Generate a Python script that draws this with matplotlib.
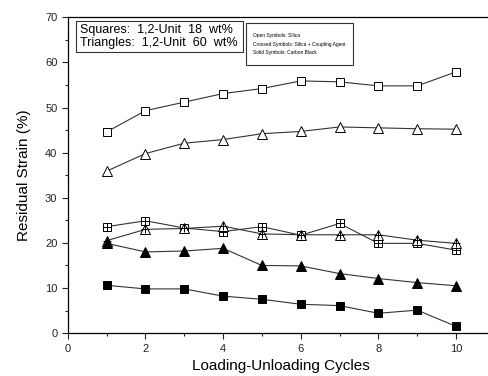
import numpy as np
import matplotlib.pyplot as plt
from matplotlib.patches import Rectangle
from matplotlib.ticker import MultipleLocator

plt.rcParams['font.family'] = ['Liberation Sans', 'DejaVu Sans']

# ==================== data ====================
cycles = [1, 2, 3, 4, 5, 6, 7, 8, 9, 10]
sq_open = [44.6, 49.3, 51.2, 53.1, 54.2, 55.9, 55.7, 54.8, 54.8, 57.9]
tri_open = [35.9, 39.8, 42.1, 42.9, 44.2, 44.7, 45.7, 45.5, 45.3, 45.2]
sq_cross = [23.6, 24.9, 23.3, 22.5, 23.6, 21.7, 24.3, 19.9, 19.9, 18.4]
tri_cross = [20.5, 23.0, 23.2, 23.7, 22.0, 21.8, 21.8, 21.8, 20.6, 19.9]
tri_solid = [19.9, 18.0, 18.2, 18.8, 15.0, 14.9, 13.2, 12.1, 11.2, 10.5]
sq_solid = [10.6, 9.8, 9.8, 8.2, 7.5, 6.4, 6.1, 4.4, 5.1, 1.5]

fig = plt.figure(figsize=(4.88, 3.76), dpi=100)
ax = fig.add_axes([0.139, 0.114, 0.875, 0.840])

lc = '#333333'
kw = dict(color=lc, linewidth=0.8, markeredgecolor='black', markeredgewidth=0.7)
pk = dict(marker='+', markersize=6, linestyle='none', markeredgecolor='black', markeredgewidth=0.7)

ax.plot(cycles, sq_open, marker='s', markersize=6, markerfacecolor='white', **kw)
ax.plot(cycles, tri_open, marker='^', markersize=7, markerfacecolor='white', **kw)
ax.plot(cycles, sq_cross, marker='s', markersize=6, markerfacecolor='white', **kw)
ax.plot(cycles, sq_cross, **pk)
ax.plot(cycles, tri_cross, marker='^', markersize=7, markerfacecolor='white', **kw)
ax.plot(cycles, tri_cross, **pk)
ax.plot(cycles, tri_solid, marker='^', markersize=7, markerfacecolor='black', **kw)
ax.plot(cycles, sq_solid, marker='s', markersize=6, markerfacecolor='black', **kw)

ax.set_xlim(0, 11)
ax.set_ylim(0, 70)
ax.xaxis.set_major_locator(MultipleLocator(2))
ax.xaxis.set_minor_locator(MultipleLocator(1))
ax.yaxis.set_major_locator(MultipleLocator(10))
ax.yaxis.set_minor_locator(MultipleLocator(5))
ax.tick_params(which='both', direction='out', labelsize=8, width=0.8, colors='#222222')
ax.tick_params(which='major', length=4)
ax.tick_params(which='minor', length=2.5)
ax.spines['right'].set_visible(False)
for s in ['left', 'bottom', 'top']:
    ax.spines[s].set_linewidth(0.9)

ax.set_xlabel('Loading-Unloading Cycles', fontsize=11, labelpad=4)
ax.set_ylabel('Residual Strain (%)', fontsize=11, labelpad=10)

# legend boxes
ax.add_patch(Rectangle((0.019, 0.889), 0.391, 0.100, transform=ax.transAxes,
                       facecolor='white', edgecolor='#333333', linewidth=0.8, zorder=5))
ax.text(0.028, 0.939, 'Squares:  1,2-Unit  18  wt%\nTriangles:  1,2-Unit  60  wt%',
        transform=ax.transAxes, fontsize=9, va='center', ha='left', linespacing=1.15, zorder=6)
ax.add_patch(Rectangle((0.417, 0.849), 0.251, 0.132, transform=ax.transAxes,
                       facecolor='white', edgecolor='#333333', linewidth=0.8, zorder=5))
ax.text(0.434, 0.915, 'Open Symbols: Silica\nCrossed Symbols: Silica + Coupling Agent\nSolid Symbols: Carbon Black',
        transform=ax.transAxes, fontsize=3.5, va='center', ha='left', linespacing=1.85, zorder=6)

plt.savefig('out.png', dpi=100)
